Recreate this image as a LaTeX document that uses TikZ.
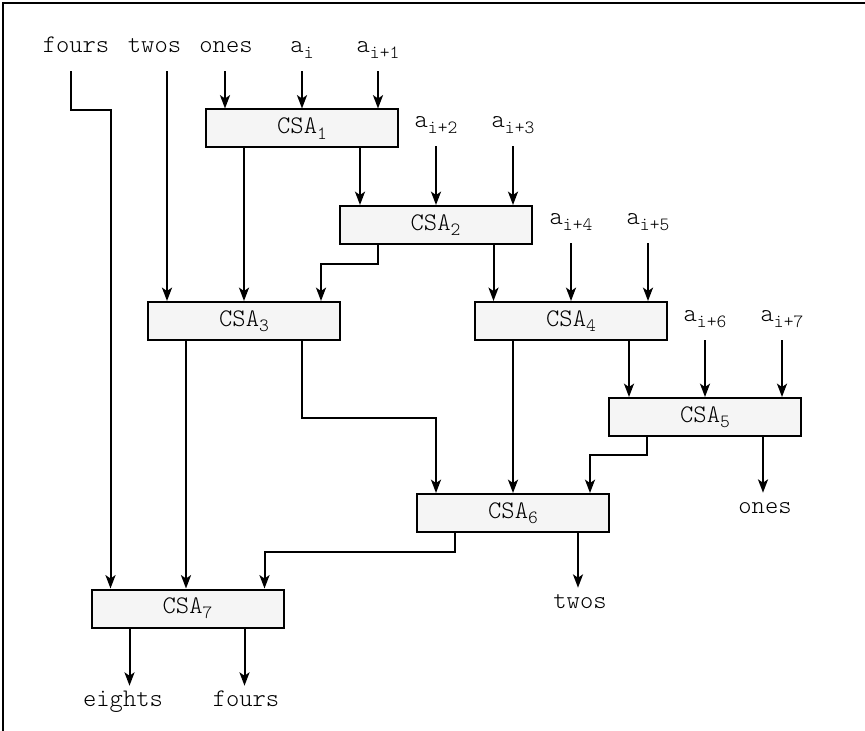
\documentclass[tikz,border=0pt]{standalone}
\usetikzlibrary{arrows.meta}
\definecolor{boxfill}{HTML}{F5F5F5}
\newcommand\sbs[1]{\raisebox{-4pt}{\fontsize{14}{14}\selectfont #1}}
\begin{document}
\begin{tikzpicture}[x=0.75pt,y=-0.75pt,
  every node/.style={font=\ttfamily\fontseries{l}\fontsize{19}{22}\selectfont},
  csa/.style={draw, line width=1.5pt, fill=boxfill, minimum width=144pt, minimum height=28.5pt, inner sep=0pt},
  lab/.style={inner sep=0pt, anchor=base},
  toplab/.style={lab, text depth=13.5pt},
  botlab/.style={lab, text height=15pt},
  wire/.style={line width=1.5pt},
  arr/.style={wire, -{Stealth[length=10pt,width=7.5pt,inset=2.5pt]}}]
\useasboundingbox (0,0) rectangle (865,731);
\draw[line width=1.7pt] (865,3) -- (3,3) -- (3,731);

% boxes
\node[csa] (c1) at (302,128.5) {CSA\sbs{1}};
\node[csa] (c2) at (435.5,225) {CSA\sbs{2}};
\node[csa] (c3) at (244,321) {CSA\sbs{3}};
\node[csa] (c4) at (571,321) {CSA\sbs{4}};
\node[csa] (c5) at (705,417) {CSA\sbs{5}};
\node[csa] (c6) at (513,513) {CSA\sbs{6}};
\node[csa] (c7) at (187.5,608.5) {CSA\sbs{7}};

% input labels
\node[toplab] (fours) at (76,53) {fours};
\node[toplab] (twos) at (154.5,53) {twos};
\node[toplab] (ones) at (226,53) {ones};
\node[toplab] (ai) at (302,53) {a\sbs{i}};
\node[toplab] (ai1) at (378,53) {a\sbs{i+1}};
\node[toplab] (ai2) at (436,128) {a\sbs{i+2}};
\node[toplab] (ai3) at (513,128) {a\sbs{i+3}};
\node[toplab] (ai4) at (571,225) {a\sbs{i+4}};
\node[toplab] (ai5) at (648,225) {a\sbs{i+5}};
\node[toplab] (ai6) at (705,322) {a\sbs{i+6}};
\node[toplab] (ai7) at (782,322) {a\sbs{i+7}};

% output labels
\node[botlab] (onesout) at (765,513) {ones};
\node[botlab] (twosout) at (580,608) {twos};
\node[botlab] (eights) at (123,706) {eights};
\node[botlab] (foursout) at (246,706) {fours};

% inputs
\draw[arr] ([shift={(-5,0)}]fours.south) -- ++(0,39) -| ([shift={(-77,0)}]c7.north);
\draw[arr] ([shift={(-77,0)}]c3.north |- twos.south) -- ([shift={(-77,0)}]c3.north);
\draw[arr] ([shift={(-77,0)}]c1.north |- ones.south) -- ([shift={(-77,0)}]c1.north);
\draw[arr] (ai.south) -- (ai.south |- c1.north);
\draw[arr] (ai1.south) -- (ai1.south |- c1.north);
\draw[arr] (ai2.south) -- (ai2.south |- c2.north);
\draw[arr] (ai3.south) -- (ai3.south |- c2.north);
\draw[arr] (ai4.south) -- (ai4.south |- c4.north);
\draw[arr] (ai5.south) -- (ai5.south |- c4.north);
\draw[arr] (ai6.south) -- (ai6.south |- c5.north);
\draw[arr] (ai7.south) -- (ai7.south |- c5.north);

% CSA1
\draw[arr] ([shift={(-58,0)}]c1.south) -- ([shift={(-58,0)}]c1.south |- c3.north);
\draw[arr] ([shift={(58,0)}]c1.south) -- ([shift={(58,0)}]c1.south |- c2.north);
% CSA2
\draw[arr] ([shift={(-58,0)}]c2.south) -- ++(0,19) -| ([shift={(77,0)}]c3.north);
\draw[arr] ([shift={(58,0)}]c2.south) -- ([shift={(58,0)}]c2.south |- c4.north);
% CSA3
\draw[arr] ([shift={(-58,0)}]c3.south) -- ([shift={(-58,0)}]c3.south |- c7.north);
\draw[arr] ([shift={(58,0)}]c3.south) -- ++(0,77) -| ([shift={(-77,0)}]c6.north);
% CSA4
\draw[arr] ([shift={(-58,0)}]c4.south) -- ([shift={(-58,0)}]c4.south |- c6.north);
\draw[arr] ([shift={(58,0)}]c4.south) -- ([shift={(58,0)}]c4.south |- c5.north);
% CSA5
\draw[arr] ([shift={(-58,0)}]c5.south) -- ++(0,18) -| ([shift={(77,0)}]c6.north);
\draw[arr] ([shift={(58,0)}]c5.south) -- ([shift={(58,0)}]c5.south |- onesout.north);
% CSA6
\draw[arr] ([shift={(-58,0)}]c6.south) -- ++(0,19) -| ([shift={(77,0)}]c7.north);
\draw[arr] ([shift={(65,0)}]c6.south) -- ([shift={(65,0)}]c6.south |- twosout.north);
% CSA7
\draw[arr] ([shift={(-58,0)}]c7.south) -- ([shift={(-58,0)}]c7.south |- eights.north);
\draw[arr] ([shift={(57,0)}]c7.south) -- ([shift={(57,0)}]c7.south |- foursout.north);
\end{tikzpicture}
\end{document}
